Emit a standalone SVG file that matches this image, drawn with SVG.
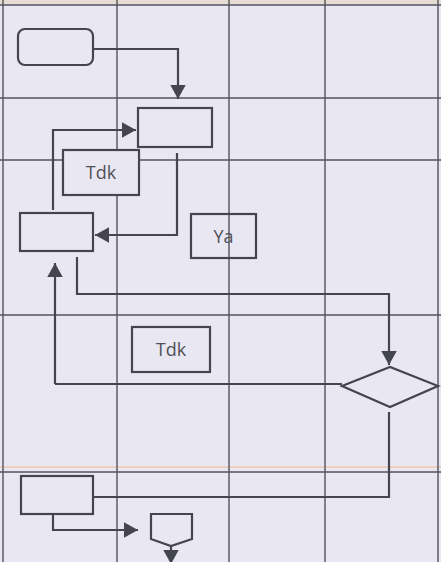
<svg xmlns="http://www.w3.org/2000/svg" width="441" height="562" viewBox="0 0 441 562">
<style>
.grid{stroke:#52525e;stroke-width:1.4;fill:none}
.node{fill:none;stroke:#45454f;stroke-width:2.2}
.conn{fill:none;stroke:#45454f;stroke-width:2.2;marker-end:url(#ah)}
.line{fill:none;stroke:#45454f;stroke-width:2.2}
.lbl{font-family:"Open Sans","Liberation Sans",sans-serif;font-size:18px;fill:#505058;text-anchor:middle}
</style>
<defs>
<marker id="ah" viewBox="0 0 10 11" refX="10" refY="5.5" markerWidth="6.5" markerHeight="7.2" markerUnits="strokeWidth" orient="auto">
<path d="M0,0 L10,5.5 L0,11 z" fill="#45454f"/>
</marker>
</defs>
<rect width="441" height="562" fill="#e9e8f2"/>
<rect width="441" height="4" fill="#e6dcd2"/>
<g id="grid">
<line class="grid" x1="0" y1="5" x2="441" y2="5"/>
<line class="grid" x1="0" y1="98" x2="441" y2="98"/>
<line class="grid" x1="0" y1="160" x2="441" y2="160"/>
<line class="grid" x1="0" y1="315" x2="441" y2="315"/>
<line stroke="#efc9a8" stroke-width="1.5" x1="0" y1="467" x2="441" y2="467"/>
<line class="grid" x1="0" y1="472" x2="441" y2="472"/>
<line class="grid" x1="3" y1="0" x2="3" y2="562"/>
<line class="grid" x1="117" y1="0" x2="117" y2="562"/>
<line class="grid" x1="229" y1="0" x2="229" y2="562"/>
<line class="grid" x1="325" y1="0" x2="325" y2="562"/>
<line class="grid" x1="438" y1="0" x2="438" y2="562"/>
</g>
<g id="connectors">
<path class="conn" d="M93,49 H178 V99"/>
<path class="conn" d="M53,210 V130 H136"/>
<path class="conn" d="M177,153 V235 H95"/>
<path class="conn" d="M55,384 V263"/>
<path class="line" d="M342,384 H55"/>
<path class="conn" d="M77,257 V294 H389 V365"/>
<path class="line" d="M389,412 V497 H91"/>
<path class="conn" d="M53,514 V530 H138"/>
<path class="conn" d="M171,546 V564"/>
</g>
<g id="start"><rect class="node" x="18" y="29" width="75" height="36" rx="7"/></g>
<g id="process1"><rect class="node" x="138" y="108" width="74" height="39" style="fill:#e9e8f2"/></g>
<g id="tdk1"><rect class="node" x="63" y="150" width="76" height="45" style="fill:#e9e8f2"/><text class="lbl" x="101" y="179">Tdk</text></g>
<g id="process2"><rect class="node" x="20" y="213" width="73" height="38"/></g>
<g id="ya"><rect class="node" x="191" y="214" width="65" height="44"/><text class="lbl" x="223.5" y="243">Ya</text></g>
<g id="tdk2"><rect class="node" x="132" y="327" width="78" height="45"/><text class="lbl" x="171" y="356">Tdk</text></g>
<g id="decision"><polygon class="node" points="342,386 390,367 438,386 390,407" style="fill:#e9e8f2"/></g>
<g id="process3"><rect class="node" x="21" y="476" width="72" height="38" style="fill:#e9e8f2"/></g>
<g id="offpage"><polygon class="node" points="151,514 192,514 192,539 171,546 151,539" style="fill:#e9e8f2"/></g>
</svg>
